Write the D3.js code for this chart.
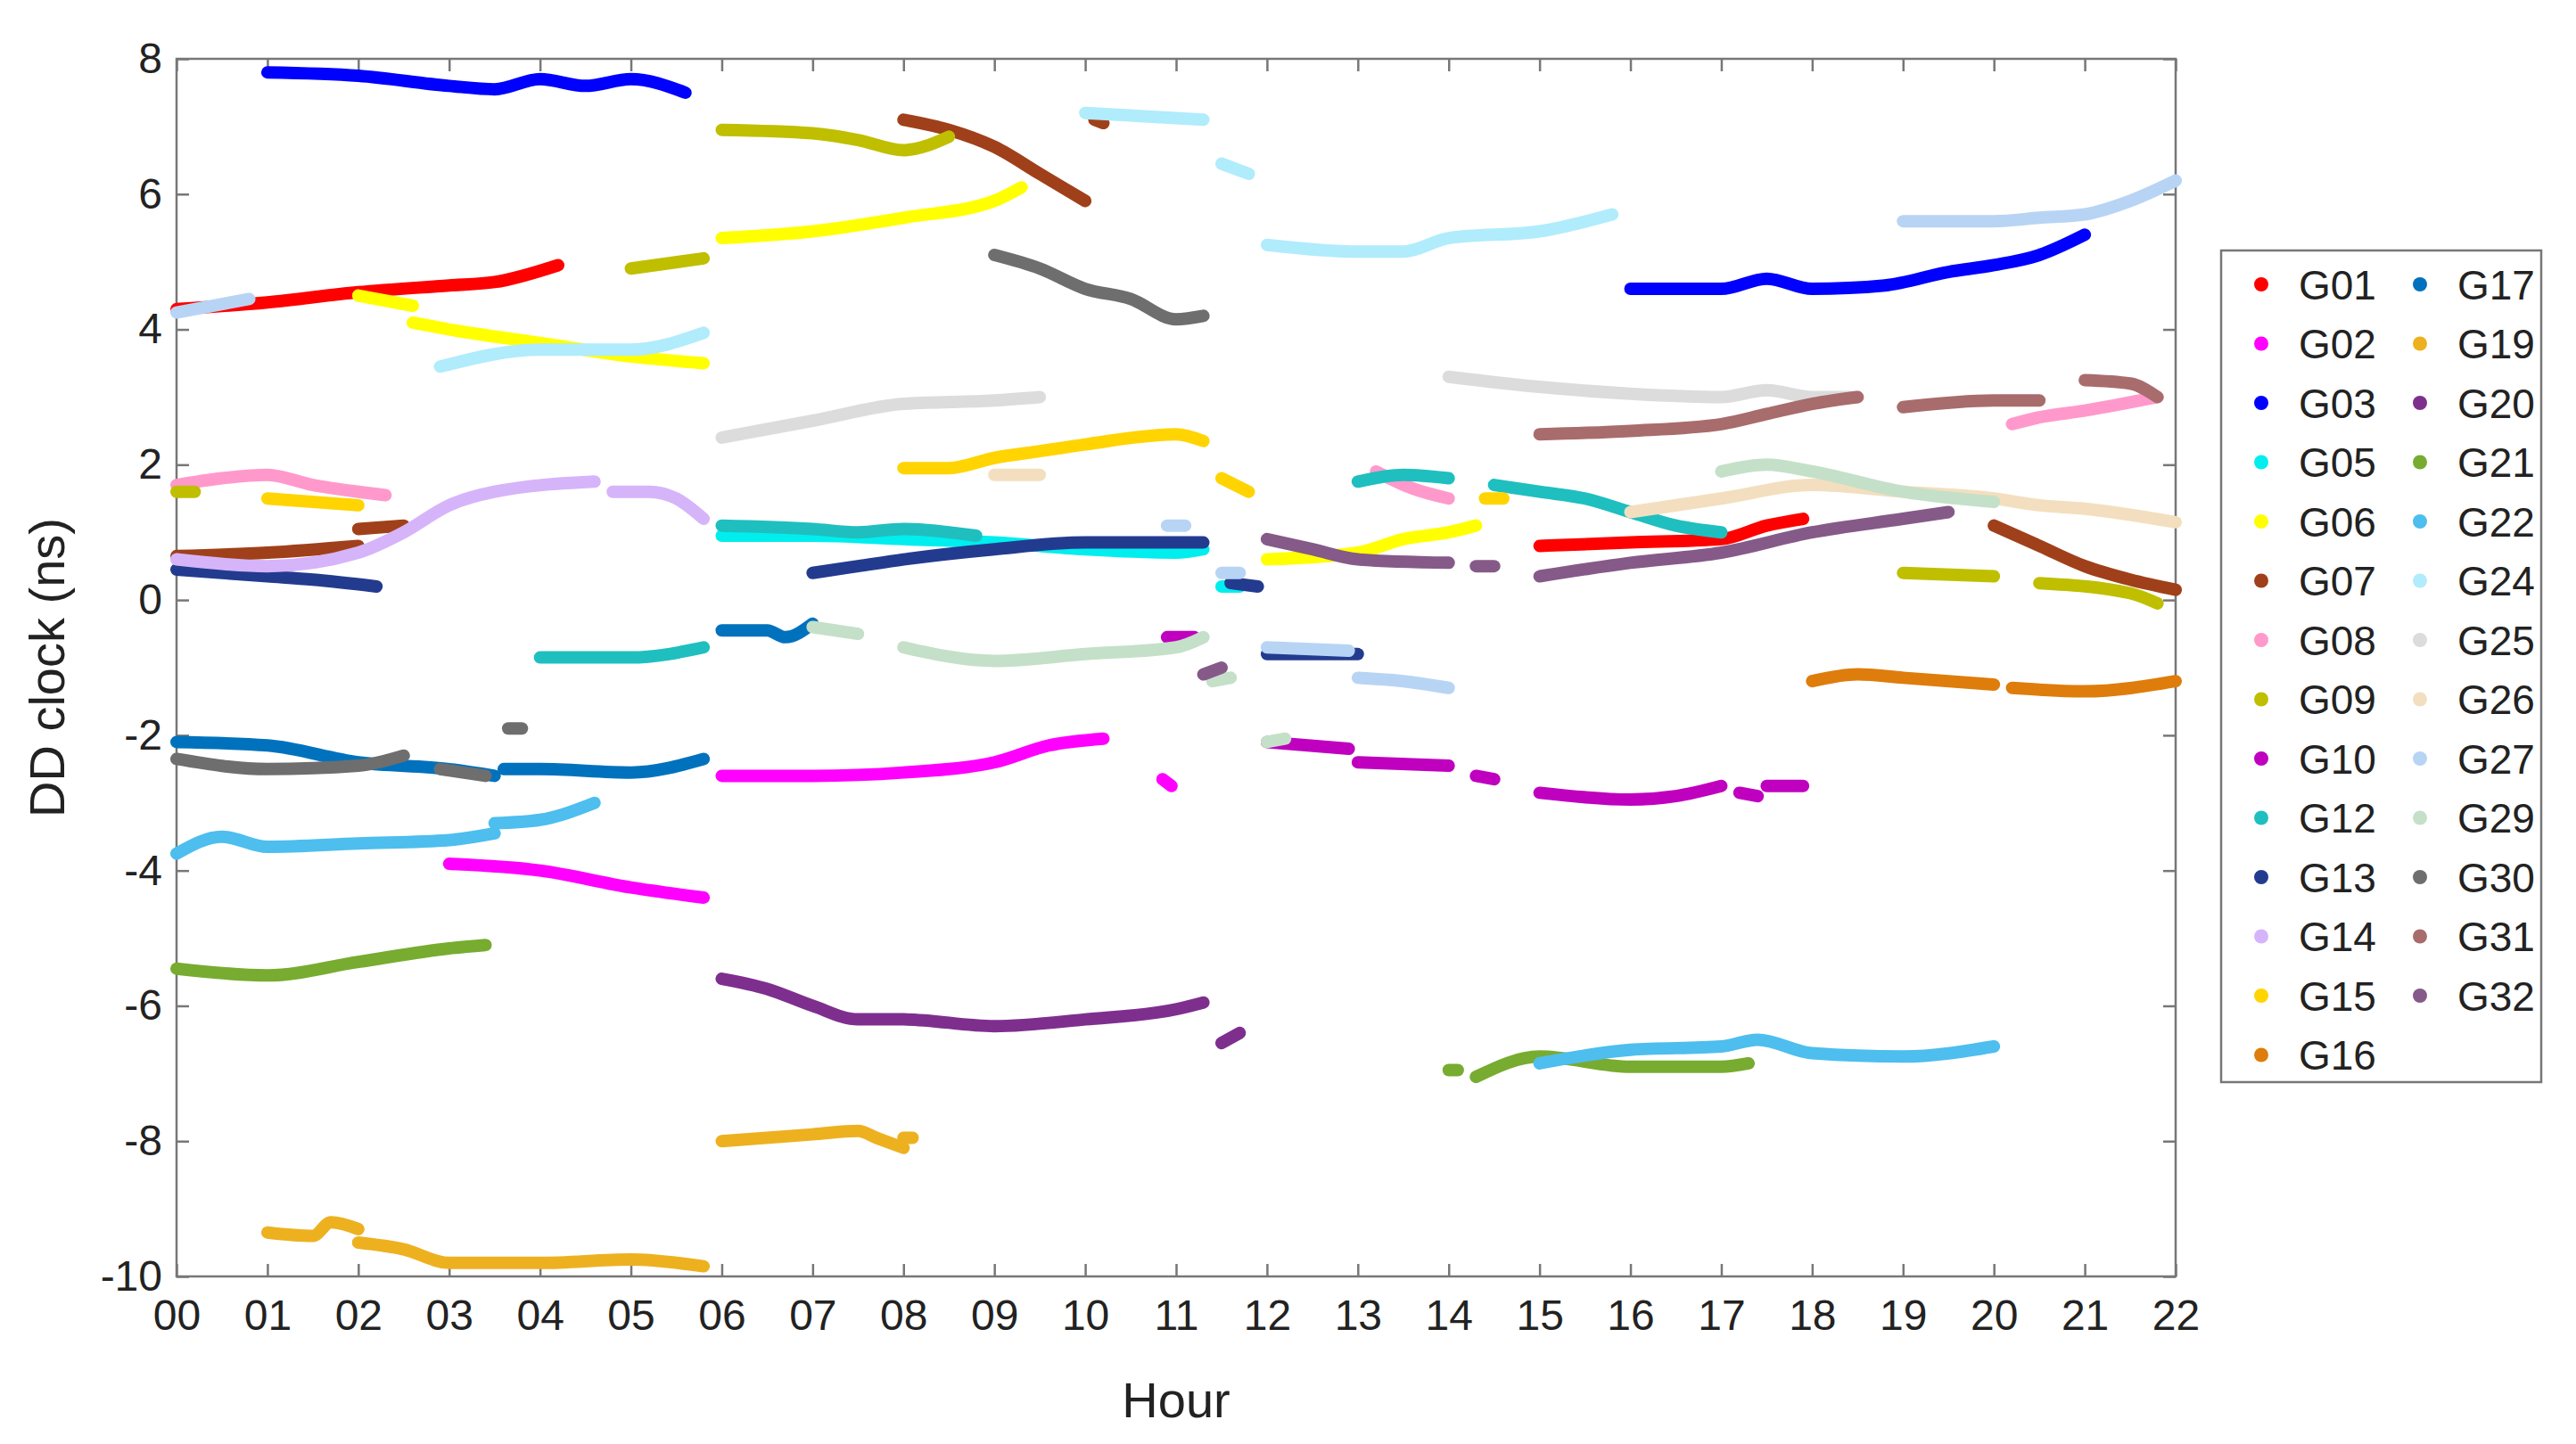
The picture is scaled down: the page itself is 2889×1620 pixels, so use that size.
<!DOCTYPE html>
<html>
<head>
<meta charset="utf-8">
<script src="https://cdn.jsdelivr.net/npm/d3@7"></script>
<style>
  body { margin: 0; background: #fff; }
  text { font-family: Arial, "Liberation Sans", sans-serif; fill: #222; }
</style>
</head>
<body>
<svg id="vis" width="2889" height="1620"></svg>
<script>
// each satellite: list of segments, each segment a list of [hour, ns]
const G01 = [[[0,4.3],[1,4.4],[2,4.55],[3,4.65],[3.5,4.7],[4.2,4.95]], [[15,0.8],[16,0.85],[17,0.9],[17.5,1.1],[17.9,1.2]]];
const G02 = [[[3,-3.9],[4,-4.0],[5,-4.25],[5.8,-4.4]], [[6,-2.6],[7,-2.6],[8,-2.55],[9,-2.4],[9.6,-2.15],[10.2,-2.05]], [[10.85,-2.65],[10.95,-2.75]]];
const G03 = [[[1,7.8],[2,7.75],[3,7.6],[3.5,7.55],[4,7.7],[4.5,7.6],[5,7.7],[5.6,7.5]], [[16,4.6],[17,4.6],[17.5,4.75],[18,4.6],[18.8,4.65],[19.5,4.85],[20,4.95],[20.5,5.1],[21,5.4]]];
const G05 = [[[6,0.95],[7,0.95],[8,0.9],[9,0.85],[10,0.75],[11,0.7],[11.3,0.75]], [[11.5,0.2],[11.7,0.2]]];
const G06 = [[[2,4.5],[2.6,4.35]], [[2.6,4.1],[3,4.0],[4,3.8],[5,3.6],[5.8,3.5]], [[6,5.35],[7,5.45],[8,5.65],[9,5.9],[9.3,6.1]], [[12,0.6],[13,0.7],[13.5,0.9],[14,1.0],[14.3,1.1]]];
const G07 = [[[0,0.65],[1,0.7],[2,0.8]], [[2,1.05],[2.5,1.1]], [[8,7.1],[8.5,6.95],[9,6.7],[9.5,6.3],[10,5.9]], [[10.1,7.1],[10.2,7.05]], [[20,1.1],[20.5,0.8],[21,0.5],[21.5,0.3],[22,0.15]]];
const G08 = [[[0,1.7],[0.5,1.8],[1,1.85],[1.5,1.7],[2,1.6],[2.3,1.55]], [[13.2,1.9],[13.6,1.65],[14,1.5]], [[20.2,2.6],[20.5,2.7],[21,2.8],[21.8,3.0]]];
const G09 = [[[0,1.6],[0.2,1.6]], [[5,4.9],[5.8,5.05]], [[6,6.95],[7,6.9],[7.5,6.8],[8,6.65],[8.5,6.85]], [[19,0.4],[20,0.35]], [[20.5,0.25],[21.5,0.1],[21.8,-0.05]]];
const G10 = [[[12,-2.1],[12.9,-2.2]], [[13,-2.4],[14,-2.45]], [[14.3,-2.6],[14.5,-2.65]], [[15,-2.85],[16,-2.95],[16.5,-2.9],[17,-2.75]], [[17.2,-2.85],[17.4,-2.9]], [[17.5,-2.75],[17.9,-2.75]], [[10.9,-0.55],[11.2,-0.55]]];
const G12 = [[[4,-0.85],[5,-0.85],[5.8,-0.7]], [[6,1.1],[7,1.05],[7.5,1.0],[8,1.05],[8.8,0.95]], [[13,1.75],[13.5,1.85],[14,1.8]], [[14.5,1.7],[15,1.6],[15.5,1.5],[16,1.3],[16.5,1.1],[17,1.0]]];
const G13 = [[[0,0.45],[1,0.35],[1.5,0.3],[2.2,0.2]], [[7,0.4],[7.5,0.5],[8,0.6],[9,0.75],[10,0.85],[11,0.85],[11.3,0.85]], [[11.6,0.25],[11.9,0.2]], [[12,-0.8],[13,-0.8]]];
const G14 = [[[0,0.6],[1,0.5],[2,0.7],[2.5,1.0],[3,1.4],[3.5,1.6],[4.6,1.75]], [[4.8,1.6],[5.2,1.6],[5.5,1.5],[5.8,1.2]]];
const G15 = [[[1,1.5],[2,1.4]], [[8,1.95],[8.5,1.95],[9,2.1],[9.5,2.2],[10,2.3],[11,2.45],[11.3,2.35]], [[11.5,1.8],[11.8,1.6]], [[14.4,1.5],[14.6,1.5]]];
const G16 = [[[18,-1.2],[18.5,-1.1],[19,-1.15],[20,-1.25]], [[20.2,-1.3],[21,-1.35],[22,-1.2]]];
const G17 = [[[0,-2.1],[1,-2.15],[2,-2.4],[3,-2.5],[3.5,-2.6]], [[3.6,-2.5],[4,-2.5],[5,-2.55],[5.8,-2.35]], [[6,-0.45],[6.5,-0.45],[6.7,-0.55],[7,-0.35]]];
const G19 = [[[1,-9.35],[1.5,-9.4],[1.7,-9.2],[2,-9.3]], [[2,-9.5],[2.5,-9.6],[3,-9.8],[4,-9.8],[5,-9.75],[5.8,-9.85]], [[6,-8.0],[7,-7.9],[7.5,-7.85],[7.7,-7.95],[8,-8.1]], [[8,-7.95],[8.1,-7.95]]];
const G20 = [[[6,-5.6],[6.5,-5.75],[7,-6.0],[7.5,-6.2],[8,-6.2],[9,-6.3],[10,-6.2],[11,-6.05],[11.3,-5.95]], [[11.5,-6.55],[11.7,-6.4]]];
const G21 = [[[0,-5.45],[1,-5.55],[2,-5.35],[3,-5.15],[3.4,-5.1]], [[14,-6.95],[14.1,-6.95]], [[14.3,-7.05],[15,-6.75],[16,-6.9],[17,-6.9],[17.3,-6.85]]];
const G22 = [[[0,-3.75],[0.5,-3.5],[1,-3.65],[2,-3.6],[3,-3.55],[3.5,-3.45]], [[3.5,-3.3],[4,-3.25],[4.6,-3.0]], [[15,-6.85],[16,-6.65],[17,-6.6],[17.4,-6.5],[18,-6.7],[19,-6.75],[20,-6.6]]];
const G24 = [[[2.9,3.45],[4,3.7],[5,3.7],[5.8,3.95]], [[10,7.2],[11.3,7.1]], [[11.5,6.45],[11.8,6.3]], [[12,5.25],[13,5.15],[13.5,5.15],[14,5.35],[15,5.45],[15.8,5.7]]];
const G25 = [[[6,2.4],[7,2.65],[8,2.9],[9,2.95],[9.5,3.0]], [[14,3.3],[15,3.15],[16,3.05],[17,3.0],[17.5,3.1],[18,3.0],[18.5,3.0]]];
const G26 = [[[9,1.85],[9.5,1.85]], [[16,1.3],[17,1.5],[18,1.7],[19,1.6],[20,1.5],[20.5,1.4],[21,1.35],[22,1.15]]];
const G27 = [[[0,4.25],[0.8,4.45]], [[10.9,1.1],[11.1,1.1]], [[11.5,0.4],[11.7,0.4]], [[12,-0.7],[12.9,-0.75]], [[13,-1.15],[13.5,-1.2],[14,-1.3]], [[19,5.6],[20,5.6],[20.5,5.65],[21,5.7],[21.5,5.9],[22,6.2]]];
const G29 = [[[7,-0.4],[7.5,-0.5]], [[8,-0.7],[9,-0.9],[10,-0.8],[11,-0.7],[11.3,-0.55]], [[11.4,-1.2],[11.6,-1.15]], [[12,-2.1],[12.2,-2.05]], [[17,1.9],[17.5,2.0],[18,1.9],[19,1.6],[20,1.45]]];
const G30 = [[[0,-2.35],[1,-2.5],[2,-2.45],[2.5,-2.3]], [[2.9,-2.5],[3.4,-2.6]], [[3.65,-1.9],[3.8,-1.9]], [[9,5.1],[9.5,4.9],[10,4.6],[10.5,4.45],[11,4.15],[11.3,4.2]]];
const G31 = [[[15,2.45],[16,2.5],[17,2.6],[17.5,2.75],[18,2.9],[18.5,3.0]], [[19,2.85],[20,2.95],[20.5,2.95]], [[21,3.25],[21.5,3.2],[21.8,3.0]]];
const G32 = [[[12,0.9],[12.5,0.75],[13,0.6],[14,0.55]], [[14.3,0.5],[14.5,0.5]], [[15,0.35],[16,0.55],[17,0.7],[18,1.0],[19,1.2],[19.5,1.3]], [[11.3,-1.1],[11.5,-1.0]]];

const names = ["G01","G02","G03","G05","G06","G07","G08","G09","G10","G12","G13","G14","G15","G16",
               "G17","G19","G20","G21","G22","G24","G25","G26","G27","G29","G30","G31","G32"];
const segs = [G01,G02,G03,G05,G06,G07,G08,G09,G10,G12,G13,G14,G15,G16,G17,G19,G20,G21,G22,G24,G25,G26,G27,G29,G30,G31,G32];
const colors = ["#ff0000","#ff00ff","#0000ff","#00eeee","#ffff00","#a0401a","#ff99cc","#bfbf00","#bf00bf","#1fbfbf",
                "#233b8f","#d6b4fa","#ffd400","#de7d0b","#0072bd","#edb120","#7e2f8e","#77ac30","#4dbeee","#b0ecfc",
                "#dcdcdc","#f3dfbf","#b8d4f5","#c5e0c8","#6e6e6e","#a86c6c","#855a88"];
const xTicks = d3.range(0, 23);
const yTicks = [-10,-8,-6,-4,-2,0,2,4,6,8];

const svg = d3.select("#vis");
const L = 198, R = 2440, T = 66, B = 1432;
const x = d3.scaleLinear().domain([0, 22]).range([L, R]);
const y = d3.scaleLinear().domain([-10, 8]).range([B, T]);

// box
svg.append("rect").attr("x", L).attr("y", T).attr("width", R - L).attr("height", B - T)
  .attr("fill", "none").attr("stroke", "#777").attr("stroke-width", 2.5);

svg.append("g").attr("transform", `translate(0,${B})`)
  .call(d3.axisBottom(x).tickValues(xTicks).tickSize(-14).tickPadding(26).tickFormat(d => d3.format("02d")(d)));
svg.append("g").attr("transform", `translate(${L},0)`)
  .call(d3.axisLeft(y).tickValues(yTicks).tickSize(-14).tickPadding(16).tickFormat(d => String(d)));
svg.append("g").attr("transform", `translate(0,${T})`)
  .call(d3.axisTop(x).tickValues(xTicks).tickSize(-14).tickFormat(""));
svg.append("g").attr("transform", `translate(${R},0)`)
  .call(d3.axisRight(y).tickValues(yTicks).tickSize(-14).tickFormat(""));
svg.selectAll(".domain").remove();
svg.selectAll(".tick line").attr("stroke", "#777").attr("stroke-width", 2.5);
svg.selectAll(".tick text").style("font-size", "48px").attr("fill", "#222");

svg.append("text").attr("x", (L + R) / 2).attr("y", 1590).attr("text-anchor", "middle")
  .style("font-size", "56px").text("Hour");
svg.append("text").attr("transform", `translate(72,${(T + B) / 2}) rotate(-90)`).attr("text-anchor", "middle")
  .style("font-size", "56px").text("DD clock (ns)");

// data strings (dense dots drawn as thick round lines)
const line = d3.line().x(d => x(d[0])).y(d => y(d[1])).curve(d3.curveMonotoneX);
segs.forEach((s, i) => {
  s.forEach(seg => {
    svg.append("path").attr("d", line(seg)).attr("fill", "none")
      .attr("stroke", colors[i]).attr("stroke-width", 14).attr("stroke-linecap", "round");
  });
});

// legend: 14 entries in first column, 13 in second
const lg = svg.append("g").attr("transform", "translate(2491,281)");
lg.append("rect").attr("width", 359).attr("height", 933).attr("fill", "#fff")
  .attr("stroke", "#777").attr("stroke-width", 2.5);
names.forEach((n, i) => {
  const col = i < 14 ? 0 : 1, row = i < 14 ? i : i - 14;
  const g = lg.append("g").attr("transform", `translate(${45 + col * 178},${38 + row * 66.5})`);
  g.append("circle").attr("r", 8).attr("fill", colors[i]);
  g.append("text").attr("x", 42).attr("dy", "0.36em").style("font-size", "46px").text(n);
});
</script>
</body>
</html>
